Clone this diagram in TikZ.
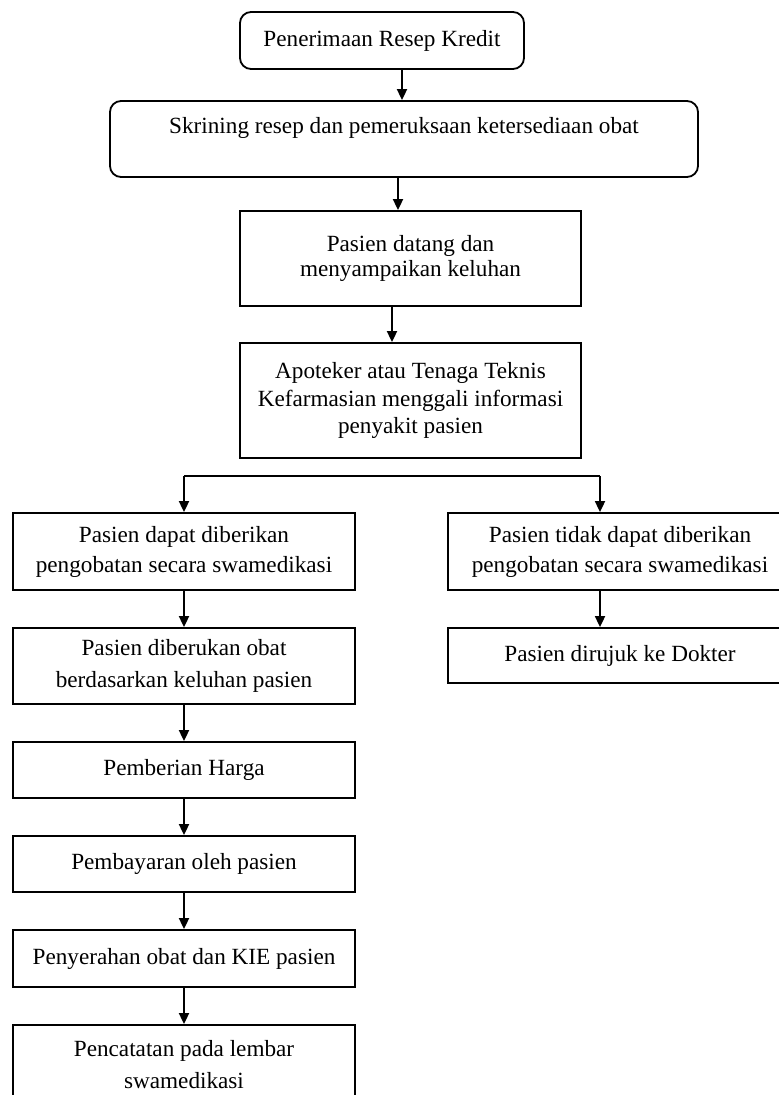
\documentclass[tikz,border=0pt]{standalone}
\usepackage{fontspec}
\setmainfont{Liberation Serif}
\usetikzlibrary{arrows.meta}
\begin{document}
\begin{tikzpicture}[x=0.5pt,y=-0.5pt,
  box/.style={draw, line width=0.9pt, rectangle, align=center, inner sep=0pt,
    font=\fontsize{11.6}{14}\selectfont},
  rbox/.style={box, rounded corners=5.5pt},
  lcol/.style={box, minimum width=171pt},
  rcol/.style={box, minimum width=172pt},
  arr/.style={line width=0.9pt, -{Triangle[width=5pt,length=5.5pt]}},
  ln/.style={line width=0.9pt}
]
\useasboundingbox (0,0) rectangle (779,1095);
\clip (0,0) rectangle (779,1095);

% top chain
\node[rbox, minimum width=142pt, minimum height=28.5pt] (b1) at (382,40.5)
  {Penerimaan Resep Kredit};
\node[rbox, minimum width=294pt, minimum height=38pt, text height=7.9pt, text depth=13.5pt] (b2) at (404,139)
  {Skrining resep dan pemeruksaan ketersediaan obat};
\node[box, minimum width=170.5pt, minimum height=47.5pt,
  font=\fontsize{11.6}{12.5}\selectfont] (b3) at (410.5,258.5)
  {Pasien datang dan\\menyampaikan keluhan};
\node[box, minimum width=170.5pt, minimum height=57.5pt,
  font=\fontsize{11.6}{13.75}\selectfont] (b4) at (410.5,400.5)
  {Apoteker atau Tenaga Teknis\\Kefarmasian menggali informasi\\penyakit pasien};

% left column
\node[lcol, minimum height=38.5pt, font=\fontsize{11.6}{15}\selectfont] (bA) at (184,551.5)
  {Pasien dapat diberikan\\pengobatan secara swamedikasi};
\node[lcol, minimum height=38pt, font=\fontsize{11.6}{16}\selectfont] (bA2) at (184,666)
  {Pasien diberukan obat\\berdasarkan keluhan pasien};
\node[lcol, minimum height=28pt] (bH) at (184,770) {Pemberian Harga};
\node[lcol, minimum height=28pt] (bP) at (184,864) {Pembayaran oleh pasien};
\node[lcol, minimum height=28.5pt] (bK) at (184,958.5) {Penyerahan obat dan KIE pasien};
\node[lcol, minimum height=40pt, font=\fontsize{11.6}{16}\selectfont] (bR) at (184,1065)
  {Pencatatan pada lembar\\swamedikasi};

% right column
\node[rcol, minimum height=38.5pt, font=\fontsize{11.6}{15}\selectfont] (bB) at (620,551.5)
  {Pasien tidak dapat diberikan\\pengobatan secara swamedikasi};
\node[rcol, minimum height=27.5pt] (bC) at (620,655.5) {Pasien dirujuk ke Dokter};

% connectors
\coordinate (x1) at (402,0);
\coordinate (x2) at (398,0);
\coordinate (x3) at (392,0);
\coordinate (xr) at (600,0);
\coordinate (brL) at (184,476);
\coordinate (brR) at (600,476);

\draw[arr] (b1.south -| x1) -- (b2.north -| x1);
\draw[arr] (b2.south -| x2) -- (b3.north -| x2);
\draw[arr] (b3.south -| x3) -- (b4.north -| x3);

\draw[ln] (brL) -- (brR);
\draw[arr] (brL) -- (bA.north);
\draw[arr] (brR) -- (bB.north -| brR);

\draw[arr] (bA) -- (bA2);
\draw[arr] (bA2) -- (bH);
\draw[arr] (bH) -- (bP);
\draw[arr] (bP) -- (bK);
\draw[arr] (bK) -- (bR);

\draw[arr] (bB.south -| xr) -- (bC.north -| xr);
\end{tikzpicture}
\end{document}
